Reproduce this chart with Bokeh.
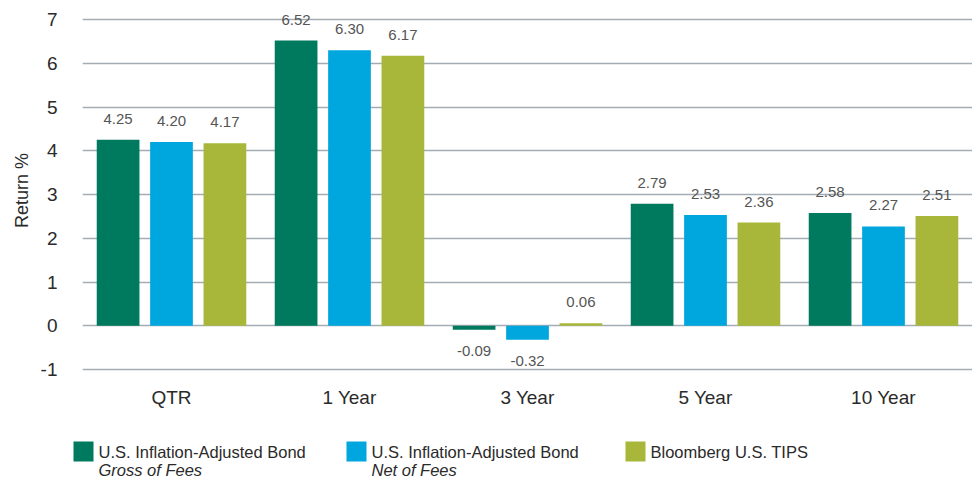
from bokeh.plotting import figure
from bokeh.models import (ColumnDataSource, FactorRange, Range1d, FixedTicker,
                          LabelSet)
from bokeh.transform import dodge
from bokeh.layouts import column
from bokeh.core.properties import value
from bokeh.embed import file_html
from bokeh.resources import INLINE

# Periods and returns (%)
periods = ["QTR", "1 Year", "3 Year", "5 Year", "10 Year"]
gross = [4.25, 6.52, -0.09, 2.79, 2.58]
net = [4.20, 6.30, -0.32, 2.53, 2.27]
tips = [4.17, 6.17, 0.06, 2.36, 2.51]
y_ticks = [-1, 0, 1, 2, 3, 4, 5, 6, 7]

series = [
    ("gross", gross, -0.3, "#007A5E"),
    ("net", net, 0.0, "#00A7DF"),
    ("tips", tips, 0.3, "#A8B739"),
]

FONT = "Liberation Sans"

# Plot frame is 380 px tall; ticks -1..7 occupy 350 px starting 19 px below
# the top, leaving headroom for value labels above the tallest bar.
PX_PER_UNIT = 350 / 8
y_lo = -1 - 11 / PX_PER_UNIT
y_hi = 7 + 19 / PX_PER_UNIT

p = figure(
    width=972, height=420,
    x_range=FactorRange(*periods, range_padding=0),
    y_range=Range1d(y_lo, y_hi),
    output_backend="svg", toolbar_location=None,
    min_border_left=82, min_border_right=0,
    min_border_top=0, min_border_bottom=40,
)
p.frame_align = False
p.outline_line_color = None
p.xgrid.grid_line_color = None
p.ygrid.ticker = FixedTicker(ticks=y_ticks)
p.ygrid.grid_line_color = "#a2acb4"
p.ygrid.grid_line_width = 1.6

src = ColumnDataSource(dict(period=periods, gross=gross, net=net, tips=tips))
for key, vals, off, color in series:
    p.vbar(x=dodge("period", off, range=p.x_range), top=key, bottom=0,
           width=0.24, source=src, fill_color=color, line_color=None)

    pos = [(f, v) for f, v in zip(periods, vals) if v >= 0]
    neg = [(f, v) for f, v in zip(periods, vals) if v < 0]
    for items, baseline, yoff in ((pos, "bottom", 16), (neg, "top", -16)):
        if not items:
            continue
        lsrc = ColumnDataSource(dict(
            period=[f for f, _ in items],
            val=[v for _, v in items],
            txt=[f"{v:.2f}" for _, v in items],
        ))
        p.add_layout(LabelSet(
            x=dodge("period", off, range=p.x_range), y="val", text="txt",
            source=lsrc, text_align="center", text_baseline=baseline,
            y_offset=yoff, text_font=value(FONT), text_font_size="15px",
            text_color="#555555",
        ))

# Axes
p.yaxis.ticker = FixedTicker(ticks=y_ticks)
p.yaxis.major_label_overrides = {t: str(t) for t in y_ticks}
p.yaxis.axis_line_color = None
p.yaxis.major_tick_line_color = None
p.yaxis.minor_tick_line_color = None
p.yaxis.major_label_standoff = 19
p.yaxis.major_label_text_font = FONT
p.yaxis.major_label_text_font_size = "19px"
p.yaxis.major_label_text_color = "#2a2a2a"
p.yaxis.axis_label = "Return %"
p.yaxis.axis_label_text_font = FONT
p.yaxis.axis_label_text_font_style = "normal"
p.yaxis.axis_label_text_font_size = "18px"
p.yaxis.axis_label_text_color = "#2a2a2a"
p.yaxis.axis_label_standoff = 6

p.xaxis.axis_line_color = None
p.xaxis.major_tick_line_color = None
p.xaxis.minor_tick_line_color = None
p.xaxis.major_label_standoff = 0
p.xaxis.major_label_text_font = FONT
p.xaxis.major_label_text_font_size = "19px"
p.xaxis.major_label_text_color = "#2a2a2a"

# Legend strip, laid out in pixel units
leg = figure(
    width=972, height=60,
    x_range=Range1d(0, 972), y_range=Range1d(60, 0),
    x_axis_type=None, y_axis_type=None,
    output_backend="svg", toolbar_location=None,
    min_border=0,
)
leg.frame_align = False
leg.grid.visible = False
leg.outline_line_color = None

legend_names = ["U.S. Inflation-Adjusted Bond", "U.S. Inflation-Adjusted Bond",
                "Bloomberg U.S. TIPS"]
legend_subs = ["Gross of Fees", "Net of Fees", ""]
legend_x = [73, 346, 625]
legend_colors = [c for _, _, _, c in series]

leg.rect(x=[x + 10 for x in legend_x], y=31, width=20, height=20,
         fill_color=legend_colors, line_color=None)
leg.text(x=[x + 25 for x in legend_x], y=31, text=legend_names,
         text_font=value(FONT), text_font_size="16.5px",
         text_color="#2a2a2a", text_baseline="alphabetic")
leg.text(x=[x + 25 for x in legend_x], y=49, text=legend_subs,
         text_font=value(FONT), text_font_size="16.5px", text_font_style="italic",
         text_color="#2a2a2a", text_baseline="alphabetic")

layout = column(p, leg, spacing=0)
open("out.html", "w").write(file_html(layout, INLINE))
